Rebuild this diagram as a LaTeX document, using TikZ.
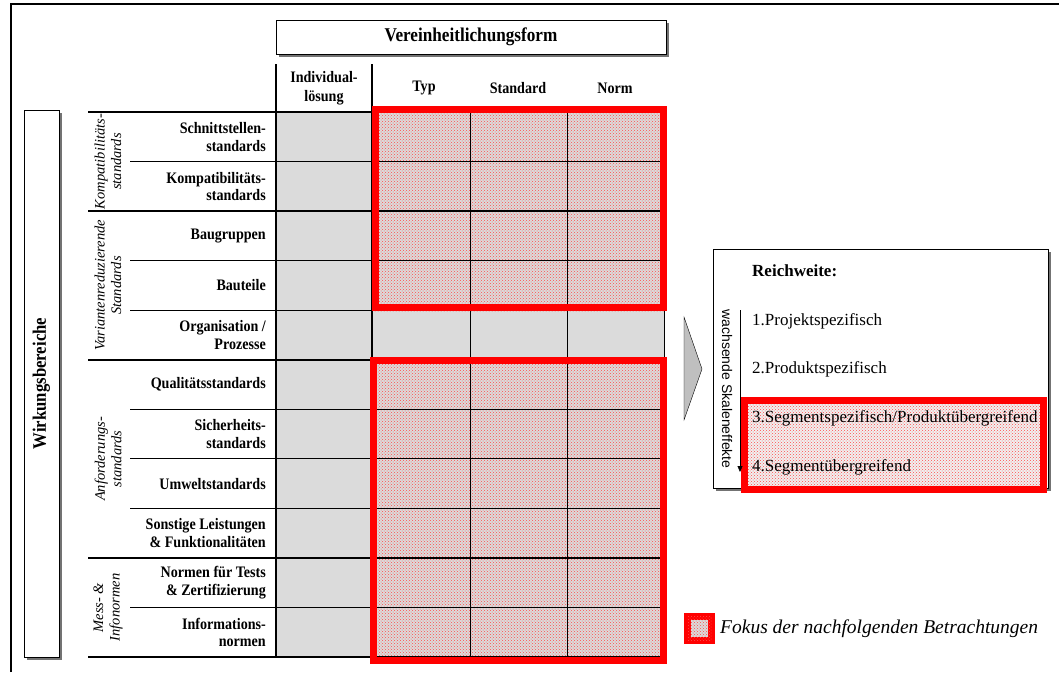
\documentclass[tikz,border=0pt]{standalone}
\usepackage{fontspec}
\setmainfont{Liberation Serif}
\setsansfont{Liberation Sans}
\newfontfamily\narrowserif[FakeStretch=0.88]{Liberation Serif}
\usetikzlibrary{patterns,shadows,arrows.meta,positioning}

\tikzset{
    focus/.style={fill=black!14, postaction={pattern=crosshatch dots, pattern color=red!70}},
    redframe/.style={draw=red, line width=7pt},
    rowlabel/.style={anchor=east, align=right, inner sep=0, font=\narrowserif\bfseries\fontsize{16}{17.5}\selectfont},
    grouplabel/.style={rotate=90, align=center, inner sep=0, font=\itshape\fontsize{14.5}{16.5}\selectfont},
    colhead/.style={align=center, font=\narrowserif\bfseries\fontsize{16}{19}\selectfont},
    shadowbox/.style={draw, fill=white, drop shadow={shadow xshift=3pt, shadow yshift=-3pt, fill=black!55, opacity=1}},
    reachitem/.style={anchor=west, inner sep=0, font=\fontsize{17}{20}\selectfont},
}

\begin{document}
\begin{tikzpicture}[x=1pt, y=-1pt]
    \def \h {49.55}
    \useasboundingbox (0,0) rectangle (1059,672);

    \draw[line width=2pt] (11,672) -- (11,4) -- (1059,4);

    \node[shadowbox, minimum width=390pt, minimum height=34pt, font=\narrowserif\bfseries\fontsize{19.5}{20}\selectfont] (form) at (471,37) {Vereinheitlichungsform};

    \node[shadowbox, minimum width=35pt, minimum height=547pt] (wirk) at (41.5,383.5) {};
    \node[rotate=90, font=\narrowserif\bfseries\fontsize{19}{20}\selectfont] (wirktext) at (wirk.center) {Wirkungsbereiche};

    \fill[black!14] (277,112) rectangle (664,657);
    \fill[focus] (372,112) rectangle (664,311);
    \fill[focus] (372,360) rectangle (664,657);

    \draw[line width=2.5pt] (276,64) -- (276,657);
    \draw[line width=2.5pt] (372,64) -- (372,657);
    \draw (470,112) -- (470,657);
    \draw (567,112) -- (567,657);
    \draw (664,112) -- (664,657);

    \draw[line width=1.6pt] (88,112) -- (664,112);
    \draw[line width=1.2pt] (130,112+1*\h) -- (664,112+1*\h);
    \draw[line width=1.6pt] (88,112+2*\h) -- (664,112+2*\h);
    \draw[line width=1.2pt] (130,112+3*\h) -- (664,112+3*\h);
    \draw[line width=1.2pt] (130,112+4*\h) -- (664,112+4*\h);
    \draw[line width=1.6pt] (88,112+5*\h) -- (664,112+5*\h);
    \draw[line width=1.2pt] (130,112+6*\h) -- (664,112+6*\h);
    \draw[line width=1.2pt] (130,112+7*\h) -- (664,112+7*\h);
    \draw[line width=1.2pt] (130,112+8*\h) -- (664,112+8*\h);
    \draw[line width=1.6pt] (88,112+9*\h) -- (664,112+9*\h);
    \draw[line width=1.2pt] (130,112+10*\h) -- (664,112+10*\h);
    \draw[line width=1.6pt] (88,112+11*\h) -- (664,112+11*\h);

    \draw[redframe] (375.5,109.5) rectangle (663.5,307.5);
    \draw[redframe] (373,360) rectangle (663.5,660);

    \node[colhead] (indiv) at (324,88) {Individual-\\lösung};
    \node[colhead] (typ) at (424,88) {Typ};
    \node[colhead] (std) at (518,88) {Standard};
    \node[colhead] (norm) at (615,88) {Norm};

    \node[rowlabel] (r1) at (266,112+0.5*\h) {Schnittstellen-\\standards};
    \node[rowlabel] (r2) at (266,112+1.5*\h) {Kompatibilitäts-\\standards};
    \node[rowlabel] (r3) at (266,112+2.5*\h) {Baugruppen};
    \node[rowlabel] (r4) at (266,112+3.5*\h) {Bauteile};
    \node[rowlabel] (r5) at (266,112+4.5*\h) {Organisation /\\Prozesse};
    \node[rowlabel] (r6) at (266,112+5.5*\h) {Qualitätsstandards};
    \node[rowlabel] (r7) at (266,112+6.5*\h) {Sicherheits-\\standards};
    \node[rowlabel] (r8) at (266,112+7.5*\h) {Umweltstandards};
    \node[rowlabel] (r9) at (266,112+8.5*\h) {Sonstige Leistungen\\\& Funktionalitäten};
    \node[rowlabel] (r10) at (266,112+9.5*\h) {Normen für Tests\\\& Zertifizierung};
    \node[rowlabel] (r11) at (266,112+10.5*\h) {Informations-\\normen};

    \node[grouplabel] (g1) at (108,112+1*\h) {Kompatibilitäts-\\standards};
    \node[grouplabel] (g2) at (108,112+3.5*\h) {Variantenreduzierende\\Standards};
    \node[grouplabel] (g3) at (108,112+7*\h) {Anforderungs-\\standards};
    \node[grouplabel] (g4) at (108,112+10*\h) {Mess- \&\\Infonormen};

    \draw[fill=black!25] (684,317) -- (702,369) -- (684,420) -- cycle;

    \node[shadowbox, minimum width=335pt, minimum height=239pt] (reich) at (880.5,368.5) {};
    \fill[focus, fill=black!6] (744.5,400.5) rectangle (1043.5,489.5);
    \draw[redframe] (744.5,400.5) rectangle (1043.5,489.5);

    \node[reachitem, font=\bfseries\fontsize{17}{20}\selectfont] (reichtitle) at (752,271) {Reichweite:};
    \node[reachitem] (p1) at (752,321) {1.Projektspezifisch};
    \node[reachitem] (p2) at (752,369) {2.Produktspezifisch};
    \node[reachitem] (p3) at (752,418) {3.Segmentspezifisch/Produktübergreifend};
    \node[reachitem] (p4) at (752,467) {4.Segmentübergreifend};

    \coordinate (arrtop) at (740,310);
    \coordinate (arrbot) at (740,472);
    \draw[-{Triangle[length=6pt,width=5pt]}] (arrtop) -- (arrbot);
    \node[rotate=-90, font=\sffamily\fontsize{14}{16}\selectfont] (skala) at (727,389) {wachsende Skaleneffekte};

    \node[draw=red, line width=7pt, focus, minimum size=24pt, inner sep=0] (legbox) at (699.5,628.5) {};
    \node[right=5pt of legbox, inner sep=0, font=\itshape\fontsize{19.5}{22}\selectfont] (legtext) {Fokus der nachfolgenden Betrachtungen};
\end{tikzpicture}
\end{document}
